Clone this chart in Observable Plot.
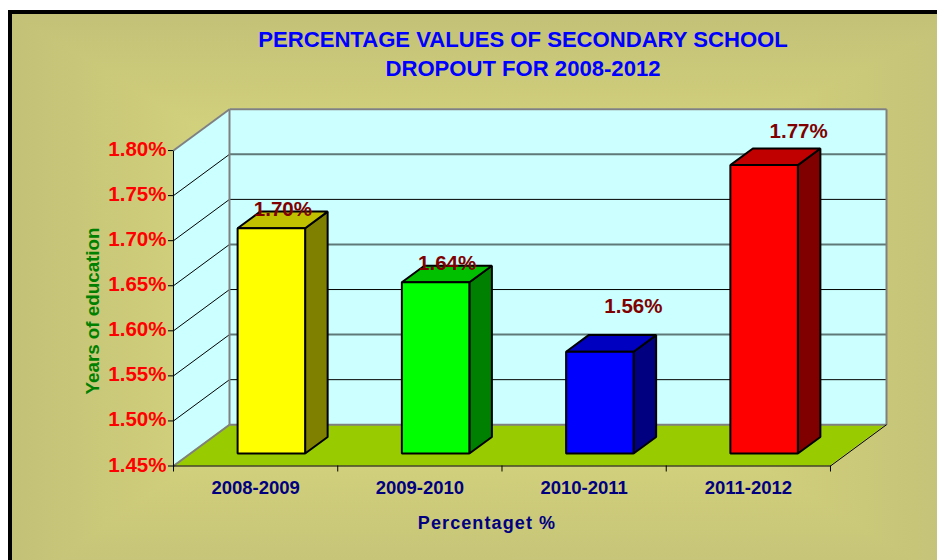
<!DOCTYPE html>
<html>
<head>
<meta charset="utf-8">
<script src="https://cdn.jsdelivr.net/npm/d3@7"></script>
<script src="https://cdn.jsdelivr.net/npm/@observablehq/plot@0.6"></script>
<style>
  html, body { margin: 0; padding: 0; background: #fff; overflow: hidden; width: 937px; height: 560px; }
  #panel {
    position: absolute; left: 8px; top: 10px; width: 960px; height: 580px;
    border-left: 4px solid #000; border-top: 4px solid #000;
    background-image:
      linear-gradient(90deg, #c3c177 0%, #d2d17c 20%, #dada80 48%, #d2d17c 76%, #c3c177 100%),
      linear-gradient(180deg, #c3c177 0%, #d2d17c 20%, #dada80 48%, #d2d17c 76%, #c3c177 100%);
    background-blend-mode: darken;
  }
  #chart { position: absolute; left: 0; top: 0; width: 937px; height: 560px; }
  #chart svg { display: block; }
</style>
</head>
<body>
<div id="panel"></div>
<div id="chart"></div>
<script>
const title = "PERCENTAGE VALUES OF SECONDARY SCHOOL\nDROPOUT FOR 2008-2012";
const categories = ["2008-2009", "2009-2010", "2010-2011", "2011-2012"];
const values = [1.70, 1.64, 1.563, 1.77];
const valueLabels = ["1.70%", "1.64%", "1.56%", "1.77%"];
const yTicks = [1.45, 1.50, 1.55, 1.60, 1.65, 1.70, 1.75, 1.80];
const frontColors = ["#ffff00", "#00ff00", "#0000ff", "#ff0000"];
const topColors = ["#c0c000", "#00c000", "#0000c0", "#c00000"];
const sideColors = ["#808000", "#008000", "#000080", "#800000"];

// 3D projection expressed in scale units: z=0 is the front plane, z=1 the back wall
const depthX = 0.341, depthY = 0.0458;
const yBase = yTicks[0], yTop = yTicks[yTicks.length - 1], n = categories.length;
const px = (c, z) => c + z * depthX;
const py = (v, z) => v + z * depthY;
const P = (c, v, z) => ({x: px(c, z), y: py(v, z)});
const face = (a, b, c, d, fill) => [
  {x1: a.x, y1: a.y, x2: b.x, y2: b.y, fill, id: fill + a.x},
  {x1: d.x, y1: d.y, x2: c.x, y2: c.y, fill, id: fill + a.x}
];
const zF = 0.29, zB = 0.692, barW = 0.411;

const wallFaces = [
  ...face(P(0, yBase, 0), P(0, yTop, 0), P(0, yTop, 1), P(0, yBase, 1), "#ccffff"),
  ...face(P(0, yBase, 1), P(0, yTop, 1), P(n, yTop, 1), P(n, yBase, 1), "#ccffff")
];
const floorFace = face(P(0, yBase, 0), P(n, yBase, 0), P(n, yBase, 1), P(0, yBase, 1), "#99cc00");

const barFaces = categories.flatMap((_, i) => {
  const l = i + 0.5 - barW / 2, r = l + barW, v = values[i];
  return [
    ...face(P(r, yBase, zF), P(r, v, zF), P(r, v, zB), P(r, yBase, zB), sideColors[i]),
    ...face(P(l, v, zF), P(r, v, zF), P(r, v, zB), P(l, v, zB), topColors[i]),
    ...face(P(l, yBase, zF), P(r, yBase, zF), P(r, v, zF), P(l, v, zF), frontColors[i])
  ];
});

const edge = (a, b) => ({x1: a.x, y1: a.y, x2: b.x, y2: b.y});
const faceMark = (rows, o) => Plot.area(rows, {x1: "x1", y1: "y1", x2: "x2", y2: "y2", z: "id", fill: "fill", ...o});
const linkMark = (rows, o) => Plot.link(rows, {x1: "x1", y1: "y1", x2: "x2", y2: "y2", ...o});
const font = {fontFamily: "Liberation Sans, Arial, sans-serif", fontWeight: "bold"};

const labelNudges = [[11, -19], [11, -19], [33, -46], [34, -34]];
const blackGrid = [1.50, 1.60, 1.70];
const grayGrid = [1.55, 1.65, 1.75];

const chart = Plot.plot({
  width: 937, height: 560,
  marginLeft: 173, marginRight: 51, marginTop: 109.5, marginBottom: 94.5,
  style: {background: "transparent"},
  x: {domain: [0, n + depthX], axis: null},
  y: {domain: [yBase, 1.845], axis: null},
  color: {type: "identity"},
  marks: [
    faceMark(wallFaces, {stroke: "none"}),
    faceMark(floorFace, {stroke: "none"}),
    // back-wall and left-wall gridlines
    linkMark(blackGrid.map(v => edge(P(0, v, 1), P(n, v, 1))), {stroke: "#000", strokeWidth: 1}),
    linkMark(grayGrid.map(v => edge(P(0, v, 1), P(n, v, 1))), {stroke: "#5f7878", strokeWidth: 2}),
    linkMark(yTicks.slice(1, -1).map(v => edge(P(0, v, 0), P(0, v, 1))), {stroke: "#000", strokeWidth: 1}),
    // gray wall outline
    linkMark([
      edge(P(0, yTop, 0), P(0, yTop, 1)),
      edge(P(0, yTop, 1), P(n, yTop, 1)),
      edge(P(n, yTop, 1), P(n, yBase, 1)),
      edge(P(0, yBase, 1), P(0, yTop, 1)),
      edge(P(0, yBase, 1), P(n, yBase, 1)),
      edge(P(0, yBase, 0), P(0, yBase, 1))
    ], {stroke: "#808080", strokeWidth: 2}),
    // black axis lines and right floor edge
    linkMark([
      edge(P(0, yBase, 0), P(0, yTop, 0)),
      edge(P(0, yBase, 0), P(n, yBase, 0)),
      edge(P(n, yBase, 0), P(n, yBase, 1))
    ], {stroke: "#000", strokeWidth: 1}),
    faceMark(barFaces, {stroke: "#000", strokeWidth: 2, strokeLinejoin: "miter"}),
    Plot.axisY({ticks: yTicks, tickFormat: () => "", tickSize: 5, anchor: "left", stroke: "#000", label: null}),
    Plot.axisY({ticks: yTicks, tickFormat: d => d.toFixed(2) + "%", tickSize: 0, tickPadding: 7, dy: -1,
      anchor: "left", fill: "#ff0000", fontSize: 20.5, label: null, ...font}),
    Plot.axisX({ticks: d3.range(n + 1), tickFormat: () => "", tickSize: 6, anchor: "bottom",
      stroke: "#000", label: null}),
    Plot.axisX({ticks: categories.map((_, i) => i + 0.5), tickFormat: d => categories[d - 0.5], tickSize: 0,
      tickPadding: 15, anchor: "bottom", fill: "#000080", fontSize: 18.5, label: null, ...font}),
    ...valueLabels.map((t, i) => Plot.text([t], {
      x: () => px(i + 0.5, zF), y: () => py(values[i], zF), text: d => d,
      dx: labelNudges[i][0], dy: labelNudges[i][1],
      fill: "#800000", fontSize: 20.5, ...font
    })),
    Plot.text([title], {text: d => d, frameAnchor: "top", dx: -7, dy: -83, lineHeight: 1.3, lineAnchor: "top",
      fill: "#0000ff", fontSize: 22.1, ...font}),
    Plot.text(["Percentaget %"], {text: d => d, frameAnchor: "bottom", dx: -43, dy: 63,
      fill: "#000080", fontSize: 18, ...font}),
    Plot.text(["Years of education"], {text: d => d, frameAnchor: "left", rotate: -90, dx: -81, dy: 106.5,
      fill: "#008000", fontSize: 18.8, ...font})
  ]
});
d3.select(chart).selectAll("text").filter(function () { return this.textContent === "Percentaget %"; })
  .style("letter-spacing", "1.1px");
document.getElementById("chart").appendChild(chart);
</script>
</body>
</html>
